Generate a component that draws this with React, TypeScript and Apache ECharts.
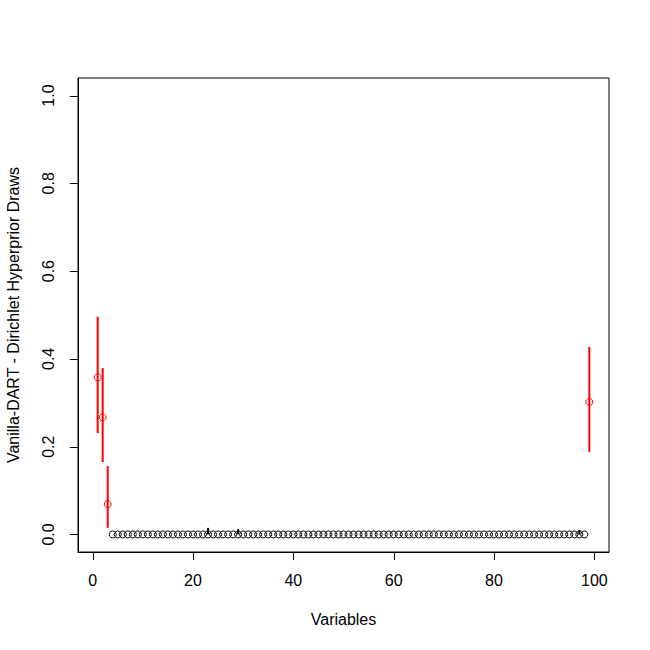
import React, { useEffect, useRef } from "react";
import * as echarts from "echarts";

// Posterior means of the Dirichlet hyperprior draws for variables 1..99
const means = [
  0.358, 0.267, 0.069, 0, 0, 0, 0, 0, 0, 0,
  0, 0, 0, 0, 0, 0, 0, 0, 0, 0,
  0, 0, 0, 0, 0, 0, 0, 0, 0, 0,
  0, 0, 0, 0, 0, 0, 0, 0, 0, 0,
  0, 0, 0, 0, 0, 0, 0, 0, 0, 0,
  0, 0, 0, 0, 0, 0, 0, 0, 0, 0,
  0, 0, 0, 0, 0, 0, 0, 0, 0, 0,
  0, 0, 0, 0, 0, 0, 0, 0, 0, 0,
  0, 0, 0, 0, 0, 0, 0, 0, 0, 0,
  0, 0, 0, 0, 0, 0, 0, 0, 0.302,
];
const lower = [
  0.231, 0.165, 0.015, 0, 0, 0, 0, 0, 0, 0,
  0, 0, 0, 0, 0, 0, 0, 0, 0, 0,
  0, 0, 0, 0, 0, 0, 0, 0, 0, 0,
  0, 0, 0, 0, 0, 0, 0, 0, 0, 0,
  0, 0, 0, 0, 0, 0, 0, 0, 0, 0,
  0, 0, 0, 0, 0, 0, 0, 0, 0, 0,
  0, 0, 0, 0, 0, 0, 0, 0, 0, 0,
  0, 0, 0, 0, 0, 0, 0, 0, 0, 0,
  0, 0, 0, 0, 0, 0, 0, 0, 0, 0,
  0, 0, 0, 0, 0, 0, 0, 0, 0.188,
];
const upper = [
  0.496, 0.379, 0.156, 0, 0, 0, 0, 0, 0, 0,
  0, 0, 0, 0, 0, 0, 0, 0, 0, 0,
  0, 0, 0.015, 0, 0, 0, 0, 0, 0.012, 0,
  0, 0, 0, 0, 0, 0, 0, 0, 0, 0,
  0, 0, 0, 0, 0, 0, 0, 0, 0, 0,
  0, 0, 0, 0, 0, 0, 0, 0, 0, 0,
  0, 0, 0, 0, 0, 0, 0, 0, 0, 0,
  0, 0, 0, 0, 0, 0, 0, 0, 0, 0,
  0, 0, 0, 0, 0, 0, 0, 0, 0, 0,
  0, 0, 0, 0, 0, 0, 0.01, 0, 0.427,
];
const selectedVars = [1, 2, 3, 99];
const xTicks = [0, 20, 40, 60, 80, 100];
const yTicks = [0, 0.2, 0.4, 0.6, 0.8, 1.0];
const xTitle = "Variables";
const yTitle = "Vanilla-DART - Dirichlet Hyperprior Draws";

const FONT = "Liberation Sans, Arial, sans-serif";
const TICK_LEN = 8;

export default function App() {
  const ref = useRef<HTMLDivElement>(null);
  useEffect(() => {
    if (!ref.current) return;
    const chart = echarts.init(ref.current, null, { renderer: "svg" });
    const idx = means.map((_, i) => i + 1);
    const blackPts = idx.filter((v) => !selectedVars.includes(v)).map((v) => [v, means[v - 1]]);
    const redPts = idx.filter((v) => selectedVars.includes(v)).map((v) => [v, means[v - 1]]);
    const blackBars = idx
      .filter((v) => !selectedVars.includes(v) && upper[v - 1] > lower[v - 1])
      .map((v) => [v, lower[v - 1], upper[v - 1]]);
    const redBars = idx.filter((v) => selectedVars.includes(v)).map((v) => [v, lower[v - 1], upper[v - 1]]);
    const xmin = 1 - 0.04 * (means.length - 1);
    const xmax = means.length + 0.04 * (means.length - 1);
    const ymin = -0.04;
    const ymax = 1.04;
    const barRender = (color: string, w: number) => (params: any, api: any) => {
      const x = api.value(0);
      const p1 = api.coord([x, api.value(1)]);
      const p2 = api.coord([x, api.value(2)]);
      return {
        type: "line",
        shape: { x1: p1[0], y1: p1[1], x2: p2[0], y2: p2[1] },
        style: { stroke: color, lineWidth: w },
      };
    };
    const xTickRender = (params: any, api: any) => {
      const p = api.coord([api.value(0), ymin]);
      const x = Math.round(p[0]) + 0.5;
      return {
        type: "line",
        shape: { x1: x, y1: p[1], x2: x, y2: p[1] + TICK_LEN },
        style: { stroke: "#000", lineWidth: 1 },
      };
    };
    const yTickRender = (params: any, api: any) => {
      const p = api.coord([xmin, api.value(1)]);
      const y = Math.round(p[1]) + 0.5;
      return {
        type: "line",
        shape: { x1: p[0], y1: y, x2: p[0] - TICK_LEN, y2: y },
        style: { stroke: "#000", lineWidth: 1 },
      };
    };
    chart.setOption({
      animation: false,
      backgroundColor: "#fff",
      grid: {
        left: 78,
        top: 78,
        right: 41,
        bottom: 98,
        show: true,
        borderColor: "#000",
        borderWidth: 1,
        containLabel: false,
        outerBoundsMode: "none",
      },
      xAxis: {
        type: "value",
        min: xmin,
        max: xmax,
        axisLine: { show: true, onZero: false, lineStyle: { color: "#000", width: 1 } },
        splitLine: { show: false },
        axisTick: { show: false },
        axisLabel: { customValues: xTicks, margin: 20, fontSize: 16, color: "#000", fontFamily: FONT },
        name: xTitle,
        nameLocation: "middle",
        nameGap: 59,
        nameTextStyle: { fontSize: 16, color: "#000", fontFamily: FONT },
      },
      yAxis: {
        type: "value",
        min: ymin,
        max: ymax,
        axisLine: { show: true, onZero: false, lineStyle: { color: "#000", width: 1 } },
        splitLine: { show: false },
        axisTick: { show: false },
        axisLabel: {
          customValues: yTicks,
          rotate: 90,
          margin: 22,
          fontSize: 16,
          color: "#000",
          fontFamily: FONT,
          formatter: (v: number) => v.toFixed(1),
        },
        name: yTitle,
        nameLocation: "middle",
        nameGap: 57,
        nameTextStyle: { fontSize: 16, color: "#000", fontFamily: FONT },
      },
      series: [
        {
          type: "scatter",
          data: blackPts,
          symbol: "circle",
          symbolSize: 7,
          itemStyle: { color: "rgba(0,0,0,0)", borderColor: "#000", borderWidth: 1, opacity: 1 },
          silent: true,
          z: 2,
        },
        {
          type: "scatter",
          data: redPts,
          symbol: "circle",
          symbolSize: 7,
          itemStyle: { color: "rgba(0,0,0,0)", borderColor: "#ff0000", borderWidth: 1, opacity: 1 },
          silent: true,
          z: 2,
        },
        {
          type: "custom",
          data: blackBars,
          encode: { x: 0, y: [1, 2] },
          renderItem: barRender("#000", 2),
          silent: true,
          z: 3,
        },
        {
          type: "custom",
          data: redBars,
          encode: { x: 0, y: [1, 2] },
          renderItem: barRender("#ff0000", 2),
          silent: true,
          z: 3,
        },
        {
          type: "custom",
          data: xTicks.map((v) => [v, 0]),
          encode: { x: 0, y: 1 },
          renderItem: xTickRender,
          clip: false,
          silent: true,
          z: 4,
        },
        {
          type: "custom",
          data: yTicks.map((v) => [0, v]),
          encode: { x: 0, y: 1 },
          renderItem: yTickRender,
          clip: false,
          silent: true,
          z: 4,
        },
      ],
    });
    return () => chart.dispose();
  }, []);
  return <div ref={ref} style={{ position: "absolute", left: 0, top: 0, width: 650, height: 650 }} />;
}
